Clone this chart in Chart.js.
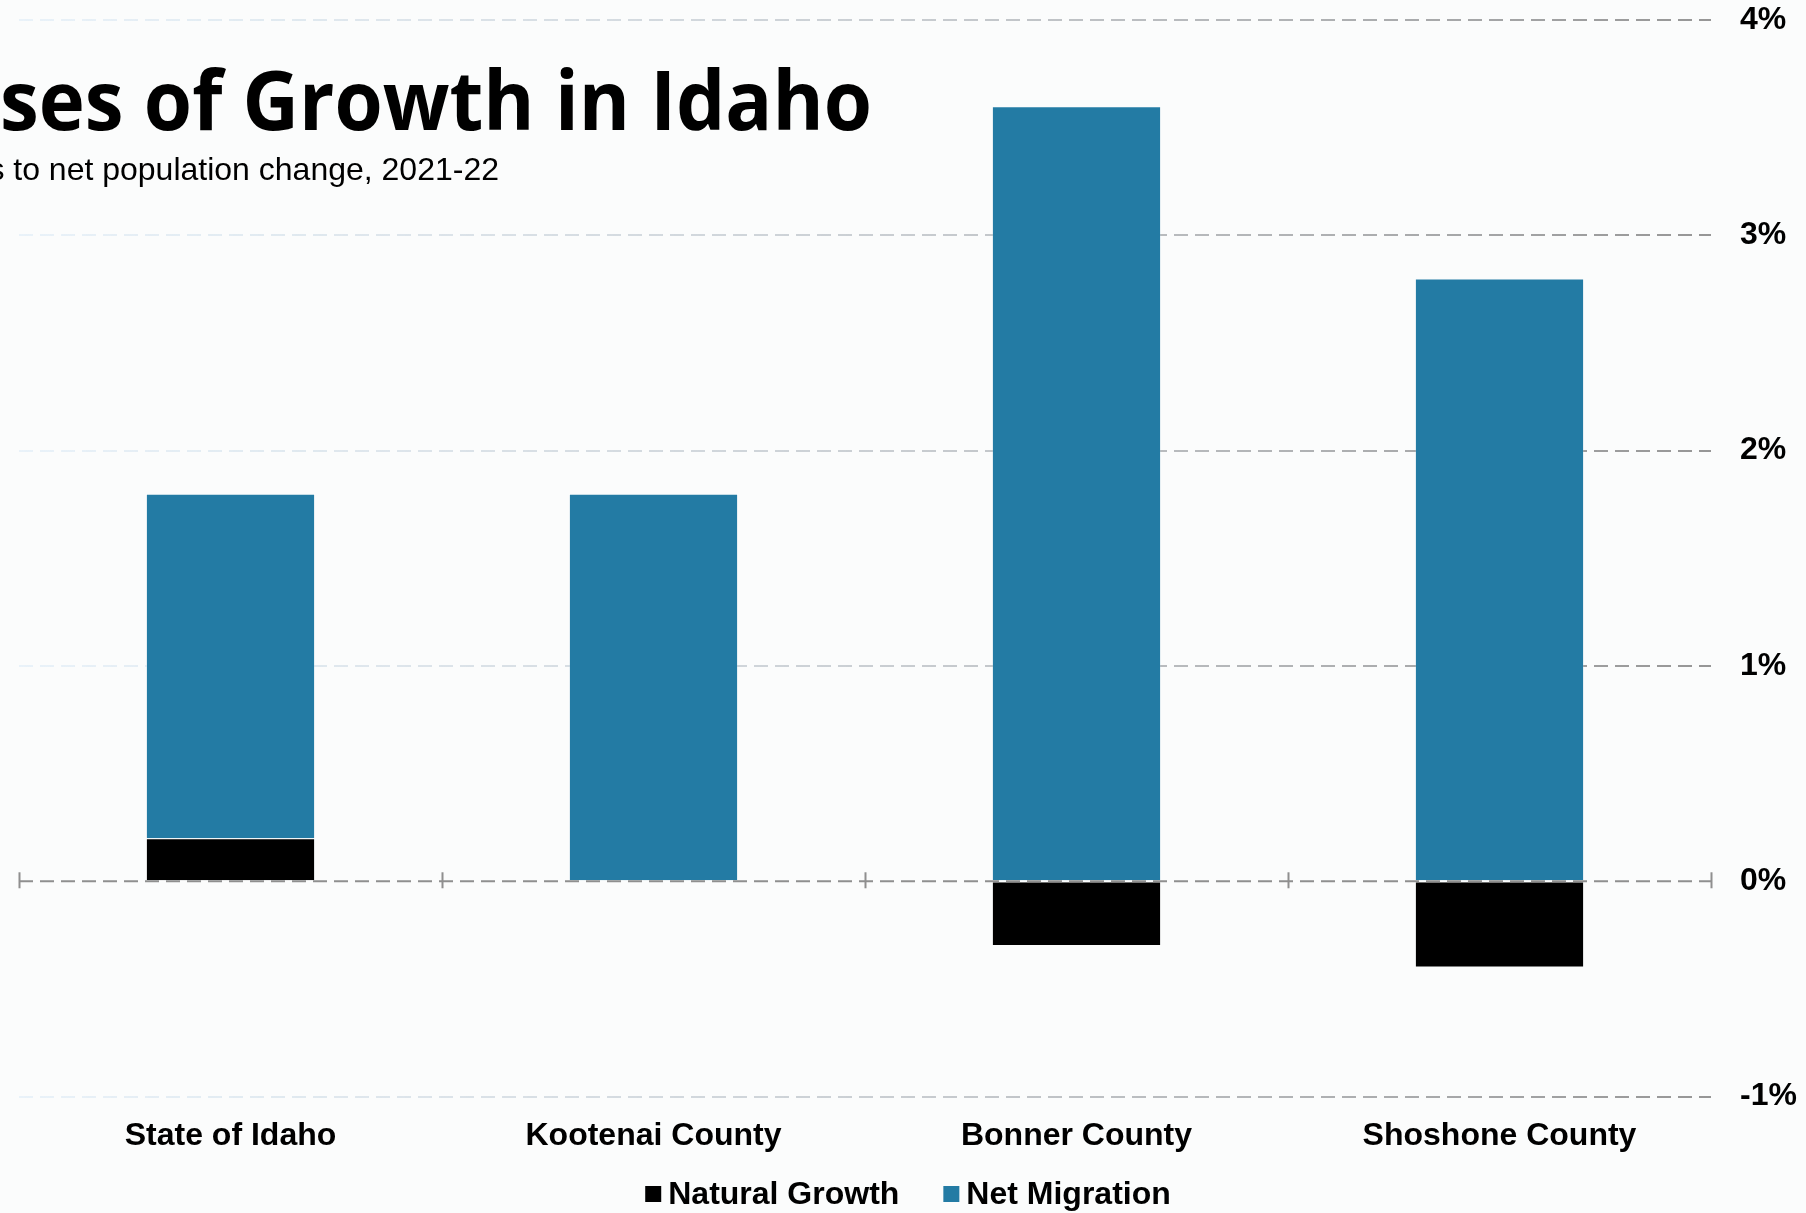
<!DOCTYPE html>
<html>
<head>
<meta charset="utf-8">
<script src="https://cdn.jsdelivr.net/npm/chart.js@4/dist/chart.umd.min.js"></script>
<style>
  html, body { margin: 0; padding: 0; background: #fbfcfc; }
  #wrap { width: 1806px; height: 1213px; position: relative; }
</style>
</head>
<body>
<div id="wrap"><canvas id="chart"></canvas></div>
<script>
// ==== Data ====
const categories = ['State of Idaho', 'Kootenai County', 'Bonner County', 'Shoshone County'];
const naturalGrowth = [0.2, 0.0, -0.3, -0.4];
const netMigration = [1.6, 1.8, 3.6, 2.8];
const yTicks = [-1, 0, 1, 2, 3, 4];

const titleText = 'Causes of Growth in Idaho';
const subtitleText = 'Contributions to net population change, 2021-22';

const BLUE = '#237ba4';
const GRID_GRAY = '#8f8f8f';
const LABEL_FONT = '"Liberation Sans", Arial, sans-serif';

// ==== Plugins ====
// title + subtitle, cut off on the left like the original crop
const titlePlugin = {
    id: 'titleText',
    afterDraw(chart) {
        const ctx = chart.ctx;
        ctx.save();
        ctx.fillStyle = '#000';
        ctx.textAlign = 'right';
        ctx.textBaseline = 'alphabetic';
        ctx.font = 'bold 82px "Open Sans", sans-serif';
        // the original face is a bit narrower, squeeze to fit the visible part
        const visible = ctx.measureText('ses of Growth in Idaho').width;
        ctx.save();
        ctx.translate(872, 130);
        ctx.scale(872 / visible, 1);
        ctx.fillText(titleText, 0, 0);
        ctx.restore();
        ctx.font = '32px ' + LABEL_FONT;
        ctx.fillText(subtitleText, 499, 180);
        ctx.restore();
    }
};

// dashed zero line with category ticks, on top of the bars
const zeroLinePlugin = {
    id: 'zeroLine',
    afterDatasetsDraw(chart) {
        const { ctx, chartArea, scales } = chart;
        const y0 = scales.y.getPixelForValue(0);
        ctx.save();
        ctx.strokeStyle = GRID_GRAY;
        ctx.lineWidth = 2;
        ctx.setLineDash([14, 7]);
        ctx.beginPath();
        ctx.moveTo(chartArea.left, y0);
        ctx.lineTo(chartArea.right, y0);
        ctx.stroke();
        ctx.setLineDash([]);
        const step = (chartArea.right - chartArea.left) / categories.length;
        for (let i = 0; i <= categories.length; i++) {
            const x = Math.round(chartArea.left + i * step) + 0.5;
            ctx.beginPath();
            ctx.moveTo(x, y0 - 9);
            ctx.lineTo(x, y0 + 7);
            ctx.stroke();
        }
        ctx.restore();
    }
};

// legend drawn by hand so the spacing matches
const legendPlugin = {
    id: 'customLegend',
    afterDraw(chart) {
        const ctx = chart.ctx;
        const box = 16, gap = 7, itemGap = 44, cy = 1194;
        ctx.save();
        ctx.font = 'bold 32px ' + LABEL_FONT;
        const items = chart.data.datasets.map(ds => ({
            label: ds.label, color: ds.backgroundColor, w: ctx.measureText(ds.label).width
        }));
        const total = items.reduce((s, it) => s + box + gap + it.w, 0) + itemGap * (items.length - 1);
        let x = chart.width / 2 + 5 - total / 2;
        ctx.textBaseline = 'middle';
        ctx.textAlign = 'left';
        items.forEach(it => {
            ctx.fillStyle = it.color;
            ctx.fillRect(x, cy - box / 2, box, box);
            ctx.fillStyle = '#000';
            ctx.fillText(it.label, x + box + gap, cy + 1);
            x += box + gap + it.w + itemGap;
        });
        ctx.restore();
    }
};

function gridColor(c) {
    if (c.tick && c.tick.value === 0) return 'rgba(0,0,0,0)';
    const area = c.chart.chartArea;
    if (!area) return GRID_GRAY;
    const g = c.chart.ctx.createLinearGradient(area.left, 0, area.right, 0);
    g.addColorStop(0, 'rgba(225,238,248,0.7)');
    g.addColorStop(0.55, 'rgba(198,202,206,1)');
    g.addColorStop(1, 'rgba(150,150,150,1)');
    return g;
}

// ==== Chart ====
new Chart(document.getElementById('chart'), {
    type: 'bar',
    data: {
        labels: categories,
        datasets: [
            {
                label: 'Natural Growth',
                data: naturalGrowth,
                backgroundColor: '#000000',
                borderColor: 'rgba(255,255,255,0.12)',
                borderWidth: 1,
                categoryPercentage: 0.8,
                barPercentage: 0.5
            },
            {
                label: 'Net Migration',
                data: netMigration,
                backgroundColor: BLUE,
                borderColor: 'rgba(255,255,255,0.15)',
                borderWidth: 1,
                categoryPercentage: 0.8,
                barPercentage: 0.5
            }
        ]
    },
    options: {
        responsive: true,
        maintainAspectRatio: false,
        animation: false,
        layout: { padding: { left: 19, top: 20, right: 0, bottom: 46 } },
        plugins: {
            legend: { display: false },
            tooltip: { enabled: false }
        },
        scales: {
            x: {
                stacked: true,
                grid: { display: false },
                border: { display: false },
                ticks: {
                    color: '#000',
                    padding: 12,
                    maxRotation: 0,
                    font: { family: LABEL_FONT, size: 32, weight: 'bold' }
                }
            },
            y: {
                stacked: true,
                position: 'right',
                min: yTicks[0],
                max: yTicks[yTicks.length - 1],
                afterBuildTicks: (scale) => { scale.ticks = yTicks.map(v => ({ value: v })); },
                afterFit: (scale) => {
                    scale.width = 95;
                    scale.paddingTop = 0;
                    scale.paddingBottom = 0;
                },
                grid: { color: gridColor, lineWidth: 2, drawTicks: false },
                border: { display: false, dash: [14, 7] },
                ticks: {
                    color: '#000',
                    padding: 29,
                    callback: (v) => v + '%',
                    font: { family: LABEL_FONT, size: 32, weight: 'bold' }
                }
            }
        }
    },
    plugins: [zeroLinePlugin, titlePlugin, legendPlugin]
});
</script>
</body>
</html>
